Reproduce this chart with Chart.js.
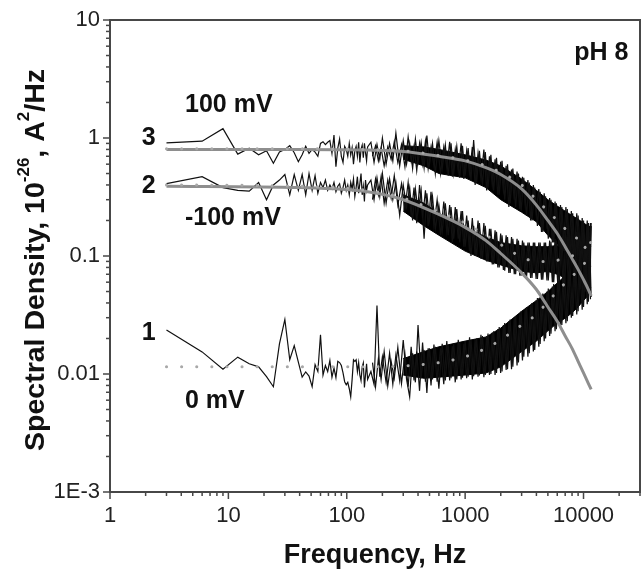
<!DOCTYPE html>
<html>
<head>
<meta charset="utf-8">
<script src="https://cdn.jsdelivr.net/npm/chart.js@4.4.1/dist/chart.umd.min.js"></script>
<style>
  html, body { margin: 0; padding: 0; background: #fff; }
  #wrap { width: 643px; height: 570px; position: relative; }
</style>
</head>
<body>
<div id="wrap"><canvas id="spectra"></canvas></div>
<script>
const freqNoise = [
  3, 6, 9, 12, 15, 18, 21, 24, 27, 30,
  33, 36, 39, 42, 45, 48, 51, 54, 57, 60,
  63, 66, 69, 72, 75, 78, 81, 84, 87, 90,
  93, 96, 99, 102, 105, 108, 111, 114, 117, 120,
  123, 126, 129, 132, 135, 138, 141, 144, 147, 150,
  160, 170, 180, 190, 200, 215, 230, 245, 260, 280,
  300, 320, 340, 360, 380, 400, 425, 450, 475, 500,
  530, 560, 600, 640, 680, 720, 760, 800, 850, 900,
  950, 1000, 1060, 1120, 1180, 1250, 1320, 1400, 1480, 1560,
  1650, 1740, 1840, 1940, 2050, 2160, 2280, 2400, 2530, 2670,
  2820, 2970, 3130, 3300, 3480, 3670, 3870, 4080, 4300, 4530,
  4780, 5040, 5310, 5600, 5900, 6220, 6560, 6910, 7290, 7680,
  8100, 8540, 9000, 9490, 10000, 10500, 11000, 11300, 11600
];

const noise3 = [
  0.91, 0.94, 1.2, 0.73, 0.82, 0.72, 0.78, 0.61, 0.76, 0.8,
  0.86, 0.75, 0.63, 0.72, 0.85, 0.74, 0.8, 0.76, 0.7, 0.9,
  0.93, 0.88, 0.92, 0.95, 0.74, 1.06, 0.57, 0.82, 0.98, 0.7,
  0.62, 0.85, 0.8, 0.7, 0.9, 0.72, 0.83, 0.6, 0.78, 0.85,
  0.7, 0.92, 0.62, 0.8, 0.87, 0.68, 0.9, 0.75, 0.64, 0.84,
  0.92, 0.62, 0.88, 0.66, 1.0, 0.6, 0.9, 0.64, 1.1, 0.58,
  0.95, 0.6, 0.9, 0.55, 0.98, 0.62, 0.92, 0.56, 1.05, 0.6,
  0.9, 0.5, 0.95, 0.55, 0.88, 0.48, 0.9, 0.5, 0.85, 0.46,
  0.86, 0.48, 0.82, 0.44, 0.96, 0.42, 0.78, 0.4, 0.76, 0.38,
  0.72, 0.36, 0.68, 0.33, 0.64, 0.3, 0.6, 0.28, 0.55, 0.26,
  0.5, 0.24, 0.46, 0.22, 0.42, 0.2, 0.38, 0.18, 0.35, 0.16,
  0.32, 0.14, 0.3, 0.13, 0.28, 0.12, 0.26, 0.11, 0.25, 0.1,
  0.23, 0.095, 0.22, 0.09, 0.2, 0.085, 0.19, 0.082, 0.18
];

const noise2 = [
  0.41, 0.47, 0.38, 0.36, 0.355, 0.42, 0.3, 0.4, 0.44, 0.49,
  0.33, 0.49, 0.36, 0.49, 0.33, 0.5, 0.36, 0.48, 0.34, 0.42,
  0.38, 0.44, 0.36, 0.4, 0.37, 0.42, 0.35, 0.39, 0.41, 0.34,
  0.38, 0.44, 0.36, 0.4, 0.33, 0.42, 0.37, 0.45, 0.32, 0.38,
  0.47, 0.34, 0.41, 0.5, 0.33, 0.39, 0.29, 0.44, 0.36, 0.4,
  0.44, 0.3, 0.46, 0.32, 0.5, 0.28, 0.45, 0.3, 0.42, 0.22,
  0.4, 0.26, 0.38, 0.2, 0.37, 0.24, 0.36, 0.14, 0.34, 0.2,
  0.32, 0.17, 0.27, 0.16, 0.28, 0.15, 0.26, 0.14, 0.25, 0.13,
  0.24, 0.12, 0.2, 0.1, 0.18, 0.1, 0.19, 0.095, 0.18, 0.09,
  0.17, 0.085, 0.16, 0.08, 0.15, 0.075, 0.145, 0.072, 0.14, 0.07,
  0.135, 0.068, 0.13, 0.066, 0.13, 0.065, 0.13, 0.064, 0.13, 0.063,
  0.13, 0.062, 0.132, 0.06, 0.135, 0.058, 0.14, 0.056, 0.145, 0.055,
  0.15, 0.054, 0.16, 0.052, 0.17, 0.05, 0.18, 0.05, 0.19
];

const noise1 = [
  0.0236, 0.0154, 0.011, 0.0139, 0.0122, 0.0115, 0.0095, 0.0078, 0.018, 0.029,
  0.0132, 0.0174, 0.0126, 0.0094, 0.0104, 0.0096, 0.0078, 0.012, 0.0105, 0.0215,
  0.0098, 0.0118, 0.0105, 0.013, 0.0094, 0.0112, 0.0093, 0.0128, 0.0125, 0.0118,
  0.0102, 0.0086, 0.0081, 0.0085, 0.0075, 0.0064, 0.009, 0.0132, 0.0128, 0.0132,
  0.0105, 0.0125, 0.0098, 0.0088, 0.0115, 0.0124, 0.0077, 0.0098, 0.0122, 0.009,
  0.0105, 0.0082, 0.038, 0.0095, 0.014, 0.0085, 0.015, 0.0082, 0.0145, 0.0088,
  0.0194, 0.009, 0.0064, 0.015, 0.0085, 0.026, 0.0092, 0.016, 0.0069, 0.0165,
  0.009, 0.017, 0.0075, 0.018, 0.0088, 0.0175, 0.0092, 0.018, 0.009, 0.0185,
  0.0093, 0.019, 0.0095, 0.0195, 0.0096, 0.02, 0.0097, 0.021, 0.0098, 0.022,
  0.01, 0.023, 0.0102, 0.025, 0.0105, 0.027, 0.011, 0.029, 0.0115, 0.031,
  0.0125, 0.034, 0.014, 0.037, 0.015, 0.04, 0.016, 0.044, 0.018, 0.048,
  0.02, 0.053, 0.022, 0.058, 0.024, 0.064, 0.026, 0.07, 0.028, 0.078,
  0.031, 0.086, 0.034, 0.095, 0.037, 0.105, 0.041, 0.11, 0.045
];

// second pass through the dense part, read between the points above
const freqNoiseB = [
  165, 175, 185, 195, 207, 222, 237, 252, 270, 290,
  310, 330, 350, 370, 390, 412, 437, 462, 487, 515,
  545, 580, 620, 660, 700, 740, 780, 825, 875, 925,
  975, 1030, 1090, 1150, 1215, 1285, 1360, 1440, 1520, 1605,
  1695, 1790, 1890, 1995, 2105, 2220, 2340, 2465, 2600, 2745,
  2895, 3050, 3215, 3390, 3575, 3770, 3975, 4190, 4415, 4655,
  4910, 5175, 5455, 5750, 6060, 6390, 6735, 7100, 7485, 7890,
  8320, 8770, 9245, 9745, 10250, 10750, 11150, 11450
];

const noise3B = [
  0.7, 0.86, 0.64, 0.82, 0.58, 0.84, 0.66, 0.93, 0.62, 0.88,
  0.57, 1.02, 0.64, 0.86, 0.53, 0.9, 0.6, 0.94, 0.55, 0.84,
  0.58, 0.92, 0.5, 0.84, 0.56, 0.93, 0.47, 0.8, 0.52, 0.9,
  0.45, 0.78, 0.5, 0.84, 0.4, 0.74, 0.45, 0.8, 0.36, 0.7,
  0.4, 0.66, 0.33, 0.63, 0.36, 0.58, 0.26, 0.54, 0.3, 0.52,
  0.25, 0.47, 0.27, 0.44, 0.2, 0.4, 0.23, 0.37, 0.16, 0.34,
  0.17, 0.31, 0.13, 0.29, 0.14, 0.27, 0.11, 0.26, 0.115, 0.24,
  0.1, 0.23, 0.095, 0.21, 0.088, 0.2, 0.085, 0.19
];

const noise2B = [
  0.3, 0.45, 0.33, 0.47, 0.28, 0.44, 0.31, 0.48, 0.27, 0.41,
  0.25, 0.42, 0.22, 0.38, 0.19, 0.4, 0.21, 0.36, 0.18, 0.35,
  0.18, 0.3, 0.15, 0.29, 0.16, 0.27, 0.13, 0.26, 0.14, 0.24,
  0.12, 0.22, 0.11, 0.21, 0.1, 0.2, 0.095, 0.19, 0.09, 0.17,
  0.085, 0.165, 0.08, 0.155, 0.076, 0.15, 0.072, 0.145, 0.07, 0.14,
  0.068, 0.135, 0.066, 0.13, 0.065, 0.13, 0.064, 0.13, 0.063, 0.13,
  0.062, 0.135, 0.06, 0.14, 0.058, 0.14, 0.056, 0.15, 0.055, 0.155,
  0.054, 0.16, 0.052, 0.17, 0.05, 0.18, 0.05, 0.19
];

const noise1B = [
  0.0125, 0.0078, 0.0135, 0.009, 0.0155, 0.0079, 0.0128, 0.0092, 0.0168, 0.0083,
  0.0148, 0.0078, 0.017, 0.0088, 0.0155, 0.0072, 0.0185, 0.0086, 0.0165, 0.008,
  0.0178, 0.0086, 0.0165, 0.0082, 0.019, 0.0088, 0.0172, 0.0085, 0.0195, 0.009,
  0.018, 0.0092, 0.0205, 0.009, 0.0195, 0.0095, 0.0215, 0.0094, 0.021, 0.0098,
  0.0225, 0.0098, 0.024, 0.0102, 0.026, 0.0108, 0.028, 0.011, 0.03, 0.0118,
  0.032, 0.013, 0.035, 0.014, 0.038, 0.0155, 0.042, 0.017, 0.046, 0.019,
  0.05, 0.021, 0.055, 0.023, 0.061, 0.025, 0.067, 0.027, 0.074, 0.03,
  0.082, 0.032, 0.09, 0.035, 0.1, 0.039, 0.108, 0.043
];

// dense part of each trace: inner edges of the black band
const bandFreq = [300, 450, 600, 1000, 1500, 2000, 3000, 4000, 5000, 6000, 7000, 8000, 9000, 10000, 11000, 11600];
const band3Hi = [0.86, 0.84, 0.8, 0.72, 0.65, 0.58, 0.45, 0.36, 0.3, 0.265, 0.24, 0.22, 0.205, 0.19, 0.18, 0.175];
const band3Lo = [0.66, 0.58, 0.5, 0.46, 0.38, 0.3, 0.235, 0.195, 0.15, 0.125, 0.11, 0.1, 0.094, 0.088, 0.084, 0.082];
const band2Hi = [0.33, 0.28, 0.23, 0.175, 0.145, 0.13, 0.122, 0.12, 0.12, 0.123, 0.13, 0.135, 0.145, 0.155, 0.168, 0.175];
const band2Lo = [0.24, 0.18, 0.15, 0.11, 0.092, 0.084, 0.074, 0.072, 0.074, 0.07, 0.065, 0.062, 0.059, 0.056, 0.054, 0.054];
const band1Hi = [0.0135, 0.0155, 0.017, 0.019, 0.0206, 0.0245, 0.034, 0.042, 0.05, 0.059, 0.068, 0.078, 0.09, 0.102, 0.114, 0.12];
const band1Lo = [0.0098, 0.0092, 0.0094, 0.0098, 0.0102, 0.0115, 0.0155, 0.019, 0.0232, 0.027, 0.0297, 0.033, 0.037, 0.042, 0.0465, 0.049];

// fitted curves (grey solid) and background-included curves (dotted)
const fitFreq = [3, 40, 150, 300, 600, 1000, 1500, 2000, 3000, 4000, 5000, 6000, 7000, 8000, 9000, 10000, 11000, 11600];
const fit3 = [0.8, 0.8, 0.79, 0.77, 0.7, 0.64, 0.56, 0.49, 0.37, 0.27, 0.2, 0.155, 0.12, 0.095, 0.077, 0.063, 0.052, 0.046];
const fit2 = [0.39, 0.38, 0.35, 0.3, 0.225, 0.175, 0.135, 0.105, 0.072, 0.052, 0.037, 0.028, 0.021, 0.0165, 0.0128, 0.0102, 0.0083, 0.0074];
const dot1 = [0.0115, 0.0115, 0.0115, 0.0117, 0.0125, 0.014, 0.0165, 0.0195, 0.026, 0.032, 0.041, 0.05, 0.059, 0.067, 0.076, 0.085, 0.094, 0.1];
const dot2 = [0.4, 0.39, 0.36, 0.31, 0.235, 0.19, 0.15, 0.125, 0.098, 0.09, 0.09, 0.092, 0.096, 0.1, 0.108, 0.116, 0.124, 0.13];
const dot3 = [0.81, 0.81, 0.8, 0.78, 0.71, 0.65, 0.58, 0.51, 0.4, 0.3, 0.24, 0.2, 0.17, 0.15, 0.14, 0.135, 0.13, 0.13];

const xTickValues = [1, 10, 100, 1000, 10000];
const xTickLabels = ["1", "10", "100", "1000", "10000"];
const yTickValues = [0.001, 0.01, 0.1, 1, 10];
const yTickLabels = ["1E-3", "0.01", "0.1", "1", "10"];

const noteText = ["pH 8", "100 mV", "3", "2", "-100 mV", "1", "0 mV"];
const noteFreq = [24000, 4.3, 1.85, 1.85, 4.3, 1.85, 4.3];
const noteValue = [4.6, 1.66, 0.87, 0.34, 0.183, 0.0194, 0.0052];
const noteAlign = ["right", "left", "left", "left", "left", "left", "left"];

const xTitle = "Frequency, Hz";
const yTitleParts = [["Spectral Density, 10", false], ["-26", true], [", A", false], ["2", true], ["/Hz", false]];

const FONT = '"Liberation Sans", Arial, Helvetica, sans-serif';

function points(xs, ys) {
  return xs.map((x, i) => ({ x: x, y: ys[i] }));
}

function labelFor(value, values, labels) {
  let i = values.findIndex(v => Math.abs(Math.log10(v) - Math.log10(value)) < 1e-6);
  return i >= 0 ? labels[i] : "";
}

function noiseSet(xs, ys) {
  return {
    data: points(xs, ys),
    borderColor: "#111",
    borderWidth: 1.2,
    pointRadius: 0,
    fill: false,
    order: 3,
  };
}

function bandSet(ys, isUpper) {
  return {
    data: points(bandFreq, ys),
    borderColor: "#000",
    borderWidth: 1,
    backgroundColor: "#000",
    pointRadius: 0,
    fill: isUpper ? "+1" : false,
    order: 4,
  };
}

function fitSet(ys) {
  return {
    data: points(fitFreq, ys),
    borderColor: "#8e8e8e",
    borderWidth: 3,
    pointRadius: 0,
    fill: false,
    cubicInterpolationMode: "monotone",
    order: 2,
  };
}

function dotSet(ys) {
  return {
    data: points(fitFreq, ys),
    borderColor: "#a8a8a8",
    borderWidth: 3,
    borderDash: [0.1, 15],
    borderCapStyle: "round",
    pointRadius: 0,
    fill: false,
    cubicInterpolationMode: "monotone",
    order: 1,
  };
}

function isDecade(v) {
  let l = Math.log10(v);
  return Math.abs(l - Math.round(l)) < 1e-6;
}

function isWholeMantissa(v) {
  let m = v / Math.pow(10, Math.floor(Math.log10(v) + 1e-9));
  return Math.abs(m - Math.round(m)) < 1e-6;
}

const framePlugin = {
  id: "frame",
  afterDatasetsDraw(chart) {
    const { ctx, chartArea: a, scales } = chart;
    ctx.save();
    ctx.strokeStyle = "#474747";
    ctx.lineWidth = 2;
    ctx.strokeRect(a.left, a.top, a.right - a.left, a.bottom - a.top);
    ctx.lineWidth = 1.5;
    scales.x.ticks.forEach(t => {
      if (!isWholeMantissa(t.value)) return;
      let px = scales.x.getPixelForValue(t.value);
      let len = isDecade(t.value) ? 7 : 4;
      ctx.beginPath();
      ctx.moveTo(px, a.bottom);
      ctx.lineTo(px, a.bottom + len);
      ctx.stroke();
    });
    scales.y.ticks.forEach(t => {
      if (!isWholeMantissa(t.value)) return;
      let py = scales.y.getPixelForValue(t.value);
      let len = isDecade(t.value) ? 7 : 4;
      ctx.beginPath();
      ctx.moveTo(a.left, py);
      ctx.lineTo(a.left - len, py);
      ctx.stroke();
    });
    ctx.restore();
  },
};

const textPlugin = {
  id: "texts",
  afterDraw(chart) {
    const { ctx, chartArea: a, scales } = chart;
    ctx.save();
    ctx.fillStyle = "#111";

    // notes inside the plot
    ctx.font = "bold 25px " + FONT;
    ctx.textBaseline = "alphabetic";
    for (let i = 0; i < noteText.length; i++) {
      ctx.textAlign = noteAlign[i];
      ctx.fillText(noteText[i], scales.x.getPixelForValue(noteFreq[i]), scales.y.getPixelForValue(noteValue[i]));
    }

    // x title
    ctx.font = "bold 27px " + FONT;
    ctx.textAlign = "center";
    ctx.fillText(xTitle, (a.left + a.right) / 2, a.bottom + 71);

    // y title with superscripts
    const mainFont = "bold 28.5px " + FONT;
    const supFont = "bold 17px " + FONT;
    let total = 0;
    yTitleParts.forEach(p => {
      ctx.font = p[1] ? supFont : mainFont;
      total += ctx.measureText(p[0]).width;
    });
    ctx.translate(a.left - 66, (a.top + a.bottom) / 2 + 4);
    ctx.rotate(-Math.PI / 2);
    ctx.textAlign = "left";
    let pos = -total / 2;
    yTitleParts.forEach(p => {
      ctx.font = p[1] ? supFont : mainFont;
      ctx.fillText(p[0], pos, p[1] ? -15 : 0);
      pos += ctx.measureText(p[0]).width;
    });
    ctx.restore();
  },
};

const spectraChart = new Chart(document.getElementById("spectra"), {
  type: "line",
  data: {
    datasets: [
      dotSet(dot1),
      dotSet(dot2),
      dotSet(dot3),
      fitSet(fit3),
      fitSet(fit2),
      noiseSet(freqNoise, noise3),
      noiseSet(freqNoise, noise2),
      noiseSet(freqNoise, noise1),
      noiseSet(freqNoiseB, noise3B),
      noiseSet(freqNoiseB, noise2B),
      noiseSet(freqNoiseB, noise1B),
      bandSet(band3Hi, true),
      bandSet(band3Lo, false),
      bandSet(band2Hi, true),
      bandSet(band2Lo, false),
      bandSet(band1Hi, true),
      bandSet(band1Lo, false),
    ],
  },
  options: {
    responsive: true,
    maintainAspectRatio: false,
    animation: false,
    layout: { padding: { top: 20, right: 3, left: 0, bottom: 0 } },
    plugins: {
      legend: { display: false },
      tooltip: { enabled: false },
    },
    scales: {
      x: {
        type: "logarithmic",
        min: 1,
        max: 30000,
        afterFit(scale) {
          scale.height = 78;
          scale.paddingLeft = 0;
          scale.paddingRight = 0;
        },
        grid: { display: false, drawTicks: false },
        border: { display: false },
        ticks: {
          autoSkip: false,
          maxRotation: 0,
          padding: 11,
          color: "#222",
          font: { family: FONT, size: 22 },
          callback: value => labelFor(value, xTickValues, xTickLabels),
        },
      },
      y: {
        type: "logarithmic",
        min: 0.001,
        max: 10,
        afterFit(scale) {
          scale.width = 110;
          scale.paddingTop = 0;
          scale.paddingBottom = 0;
        },
        grid: { display: false, drawTicks: false },
        border: { display: false },
        ticks: {
          autoSkip: false,
          padding: 10,
          color: "#222",
          font: { family: FONT, size: 22 },
          callback: value => labelFor(value, yTickValues, yTickLabels),
        },
      },
    },
  },
  plugins: [framePlugin, textPlugin],
});
</script>
</body>
</html>
